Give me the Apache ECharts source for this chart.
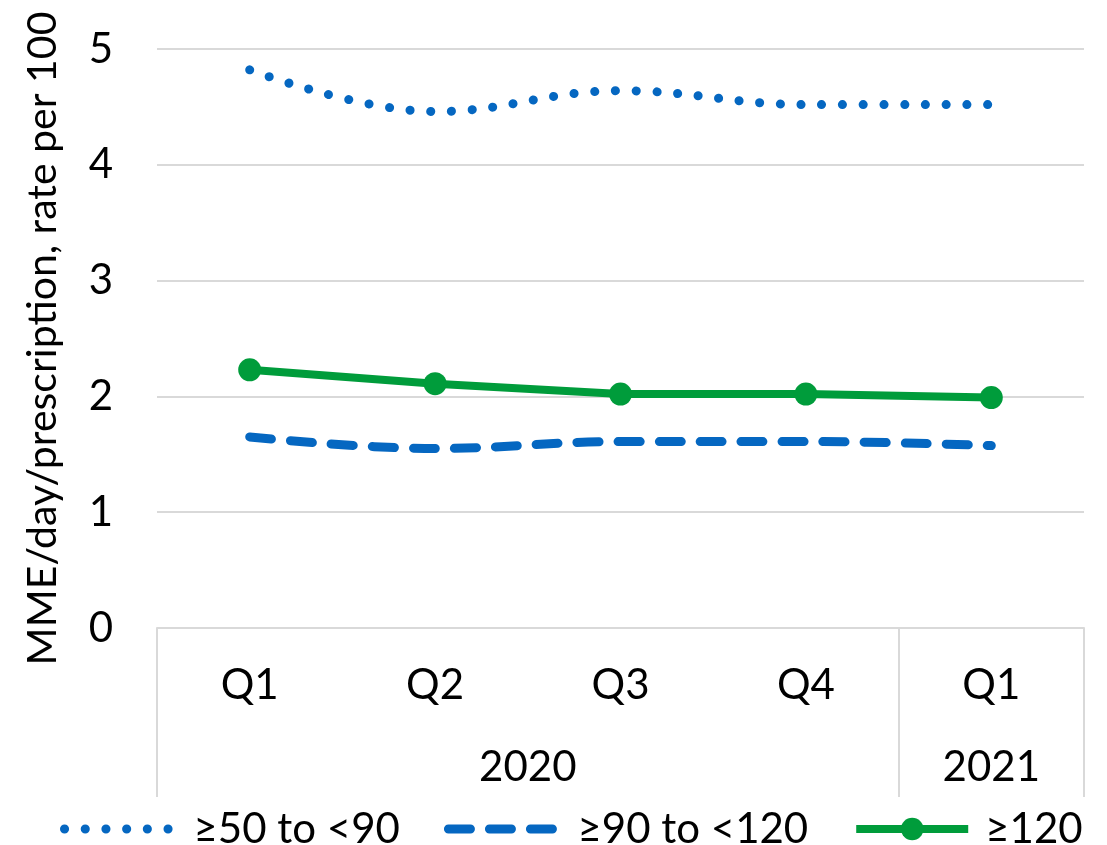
<!DOCTYPE html>
<html>
<head>
<meta charset="utf-8">
<script src="https://cdn.jsdelivr.net/npm/echarts@6/dist/echarts.min.js"></script>
<style>
html,body{margin:0;padding:0;background:#fff;}
#chart{width:1107px;height:845px;}
</style>
</head>
<body>
<div id="chart"></div>
<script>
const quarters = ['Q1', 'Q2', 'Q3', 'Q4', 'Q1'];
const years = ['2020', '2021'];
const yearSpans = [4, 1];
const seriesNames = ['≥50 to <90', '≥90 to <120', '≥120'];
const s50to90 = [4.82, 4.46, 4.64, 4.52, 4.52];
const s90to120 = [1.65, 1.55, 1.61, 1.61, 1.575];
const s120 = [2.23, 2.11, 2.02, 2.02, 1.99];
const yTicks = [0, 1, 2, 3, 4, 5];

// derived year boundaries / centres in category units
const yearBounds = [0];
yearSpans.forEach(s => yearBounds.push(yearBounds[yearBounds.length - 1] + s));
const yearCenters = yearSpans.map((s, i) => yearBounds[i] + s / 2);

const FONT = 'Lato';
const blue = '#0567C1';
const green = '#009C3B';
const grey = '#D9D9D9';

const dotStyle = { color: blue, width: 9, type: [0.1, 20.6], cap: 'round' };
const dashStyle = { color: blue, width: 9, type: [22, 19], cap: 'round' };
const solidStyle = { color: green, width: 8 };

const chart = echarts.init(document.getElementById('chart'));
chart.setOption({
  animation: false,
  textStyle: { fontFamily: FONT, color: '#000' },
  grid: { left: 157, right: 23, top: 49, bottom: 217, containLabel: false },
  legend: {
    left: 55, top: 803,
    itemWidth: 112, itemHeight: 28, itemGap: 44,
    textStyle: { fontFamily: FONT, fontSize: 42, color: '#000', padding: [0, 0, 0, 12] },
    data: [
      { name: seriesNames[0], itemStyle: { opacity: 0 }, lineStyle: { color: blue, width: 9, type: [0.1, 20.6], cap: 'round' } },
      { name: seriesNames[1], itemStyle: { opacity: 0 }, lineStyle: { color: blue, width: 9, type: [22, 19], cap: 'round' } },
      { name: seriesNames[2], itemStyle: { color: green }, lineStyle: { color: green, width: 8 } }
    ]
  },
  xAxis: [
    {
      type: 'category', data: quarters, boundaryGap: true,
      axisLine: { show: true, lineStyle: { color: grey, width: 2 } },
      axisTick: { show: false },
      splitLine: { show: false },
      axisLabel: { fontFamily: FONT, fontSize: 42, color: '#000', margin: 36, interval: 0 }
    },
    {
      type: 'value', position: 'bottom', min: 0, max: yearBounds[yearBounds.length - 1],
      axisLine: { show: false },
      splitLine: { show: false },
      axisTick: { show: true, customValues: yearBounds, length: 169, lineStyle: { color: grey, width: 2 } },
      axisLabel: {
        customValues: yearCenters, fontFamily: FONT, fontSize: 42, color: '#000', margin: 118,
        formatter: v => { const i = yearCenters.indexOf(v); return i >= 0 ? years[i] : ''; }
      }
    }
  ],
  yAxis: {
    type: 'value', min: yTicks[0], max: yTicks[yTicks.length - 1], interval: 1,
    name: 'MME/day/prescription, rate per 100',
    nameLocation: 'middle', nameGap: 94,
    nameTextStyle: { fontFamily: FONT, fontSize: 41, color: '#000' },
    axisLine: { show: false }, axisTick: { show: false },
    splitLine: { show: true, lineStyle: { color: grey, width: 2 } },
    axisLabel: { fontFamily: FONT, fontSize: 42, color: '#000', margin: 44 }
  },
  series: [
    {
      name: seriesNames[0], type: 'line', data: s50to90, smooth: 0.4,
      xAxisIndex: 0, showSymbol: false, symbol: 'none',
      lineStyle: dotStyle, itemStyle: { color: blue }
    },
    {
      name: seriesNames[1], type: 'line', data: s90to120, smooth: 0.4,
      xAxisIndex: 0, showSymbol: false, symbol: 'none',
      lineStyle: dashStyle, itemStyle: { color: blue }
    },
    {
      name: seriesNames[2], type: 'line', data: s120,
      xAxisIndex: 0, symbol: 'circle', symbolSize: 23,
      lineStyle: solidStyle, itemStyle: { color: green }
    }
  ]
});
</script>
</body>
</html>
